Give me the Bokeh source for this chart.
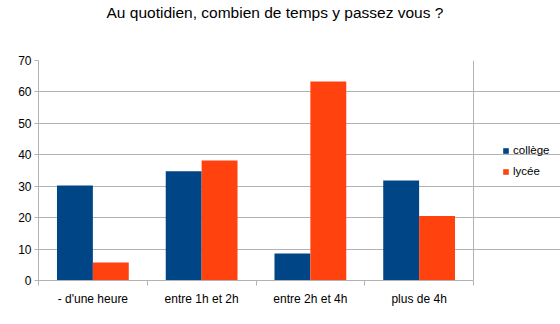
from bokeh.plotting import figure
from bokeh.models import ColumnDataSource, FixedTicker, Range1d, Legend, LegendItem, Title
from bokeh.transform import dodge
from bokeh.embed import file_html
from bokeh.resources import INLINE

title = "Au quotidien, combien de temps y passez vous ?"
categories = ["- d'une heure", "entre 1h et 2h", "entre 2h et 4h", "plus de 4h"]
series_names = ["collège", "lycée"]
college = [30.2, 34.8, 8.6, 31.8]
lycee = [5.7, 38.2, 63.3, 20.5]
y_ticks = [0, 10, 20, 30, 40, 50, 60, 70]

n = len(categories)
pos = [i + 0.5 for i in range(n)]
src = ColumnDataSource(dict(x=pos, college=college, lycee=lycee))

FONT = "Liberation Sans"
GRID = "#b3b3b3"

# frame runs to the right edge so the legend can sit inside it;
# grid/axis lines are bounded to the category area [0, n]
x_end = n * 522 / 435
p = figure(width=560, height=324, output_backend="svg", toolbar_location=None,
           x_range=Range1d(0, x_end), y_range=Range1d(0, 70),
           min_border_left=38, min_border_right=0, min_border_top=60, min_border_bottom=44)
p.title = None

r1 = p.vbar(x=dodge("x", -0.165), top="college", width=0.33, source=src,
            fill_color="#004586", line_color=None)
r2 = p.vbar(x=dodge("x", 0.165), top="lycee", width=0.33, source=src,
            fill_color="#ff420e", line_color=None)

spacer = Title(text=" ", text_font_size="1px", standoff=36)
p.add_layout(spacer, "above")
main_title = Title(text=title, text_font=FONT, text_font_size="15.5px",
                   text_font_style="normal", text_color="black",
                   align="left", offset=68, vertical_align="middle", standoff=0)
p.add_layout(main_title, "above")

p.xaxis.bounds = (0, n)
p.xaxis.ticker = FixedTicker(ticks=pos, minor_ticks=list(range(n + 1)))
p.xaxis.major_label_overrides = {pos[i]: categories[i] for i in range(n)}
p.xaxis.major_tick_line_color = None
p.xaxis.minor_tick_in = 0
p.xaxis.minor_tick_out = 5
p.xaxis.minor_tick_line_color = GRID
p.xaxis.axis_line_color = GRID
p.xaxis.major_label_text_font = FONT
p.xaxis.major_label_text_font_size = "12px"
p.xaxis.major_label_text_color = "black"
p.xaxis.major_label_standoff = 5

p.yaxis.ticker = FixedTicker(ticks=y_ticks)
p.yaxis.minor_tick_line_color = None
p.yaxis.major_tick_in = 0
p.yaxis.major_tick_out = 4
p.yaxis.major_tick_line_color = GRID
p.yaxis.axis_line_color = GRID
p.yaxis.major_label_text_font = FONT
p.yaxis.major_label_text_font_size = "12px"
p.yaxis.major_label_text_color = "black"
p.yaxis.major_label_standoff = 3

# right border of the plot area as a single vertical grid line at x = n
p.xgrid.ticker = FixedTicker(ticks=[n])
p.xgrid.grid_line_color = GRID
p.ygrid.grid_line_color = GRID
p.ygrid.bounds = (0, n)
p.outline_line_color = None
p.background_fill_color = "white"
p.border_fill_color = "white"

legend = Legend(items=[LegendItem(label=series_names[0], renderers=[r1]),
                       LegendItem(label=series_names[1], renderers=[r2])],
                location=(464, 103), orientation="vertical",
                glyph_width=7, glyph_height=7, label_height=12, spacing=9,
                label_standoff=4, padding=0, margin=0,
                label_text_font=FONT, label_text_font_size="11.5px",
                label_text_color="black",
                border_line_color=None, background_fill_alpha=0)
p.add_layout(legend, "center")

open("out.html", "w").write(file_html(p, INLINE))
